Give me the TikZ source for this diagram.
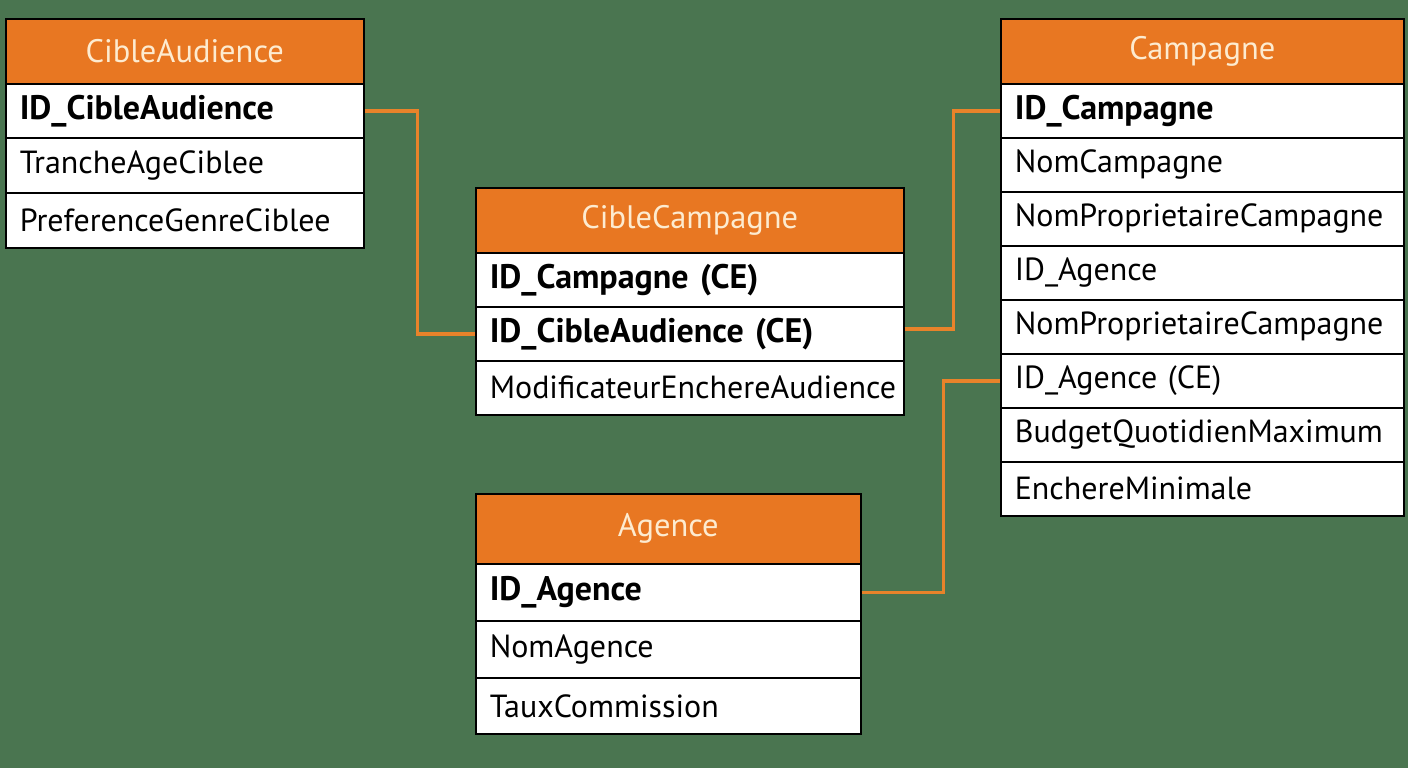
\documentclass[tikz,border=0pt]{standalone}
\usepackage{fontspec}
\setmainfont{PT Sans}
\usetikzlibrary{calc}
\definecolor{bgc}{HTML}{4A7550}
\definecolor{hdr}{HTML}{E87722}
\definecolor{hdrtxt}{HTML}{FDEBD0}
\definecolor{conc}{HTML}{E8832A}
\tikzset{
  tbl/.style={draw=black, line width=1.6pt, anchor=north west, inner xsep=14pt, inner ysep=0pt, align=left, font=\fontsize{32}{32}\selectfont},
  hd/.style={tbl, fill=hdr, text=hdrtxt, align=center, font=\fontsize{32.5}{32}\selectfont},
  rw/.style={tbl, fill=white, text=black},
  key/.style={rw, font=\fontsize{34}{34}\selectfont\bfseries},
  conn/.style={draw=conc, line width=3.5pt},
}
\begin{document}
\begin{tikzpicture}[x=1pt,y=-1pt]
\fill[bgc] (0,0) rectangle (1408,768);
\useasboundingbox (0,0) rectangle (1408,768);
% CibleAudience
\node[hd, text width=330pt, minimum height=65pt] (ca0) at (5,18) {CibleAudience};
\node[key, text width=330pt, minimum height=54pt] (ca1) at (5,83) {ID\_CibleAudience};
\node[rw, text width=330pt, minimum height=55pt] (ca2) at (5,137) {TrancheAgeCiblee};
\node[rw, text width=330pt, minimum height=55pt] (ca3) at (5,192) {PreferenceGenreCiblee};
% CibleCampagne
\node[hd, text width=400pt, minimum height=65pt] (cc0) at (475,187) {CibleCampagne};
\node[key, text width=400pt, minimum height=54pt] (cc1) at (475,252) {ID\_Campagne (CE)};
\node[key, text width=400pt, minimum height=54pt] (cc2) at (475,306) {ID\_CibleAudience (CE)};
\node[rw, text width=400pt, minimum height=54pt] (cc3) at (475,360) {ModificateurEnchereAudience};
% Campagne
\node[hd, text width=375pt, minimum height=65pt] (cp0) at (1000,18) {Campagne};
\node[key, text width=375pt, minimum height=54pt] (cp1) at (1000,83) {ID\_Campagne};
\node[rw, text width=375pt, minimum height=54pt] (cp2) at (1000,137) {NomCampagne};
\node[rw, text width=375pt, minimum height=54pt] (cp3) at (1000,191) {NomProprietaireCampagne};
\node[rw, text width=375pt, minimum height=54pt] (cp4) at (1000,245) {ID\_Agence};
\node[rw, text width=375pt, minimum height=54pt] (cp5) at (1000,299) {NomProprietaireCampagne};
\node[rw, text width=375pt, minimum height=54pt] (cp6) at (1000,353) {ID\_Agence (CE)};
\node[rw, text width=375pt, minimum height=54pt] (cp7) at (1000,407) {BudgetQuotidienMaximum};
\node[rw, text width=375pt, minimum height=54pt] (cp8) at (1000,461) {EnchereMinimale};
% Agence
\node[hd, text width=357pt, minimum height=70pt] (ag0) at (475,493) {Agence};
\node[key, text width=357pt, minimum height=57pt] (ag1) at (475,563) {ID\_Agence};
\node[rw, text width=357pt, minimum height=57pt] (ag2) at (475,620) {NomAgence};
\node[rw, text width=357pt, minimum height=56pt] (ag3) at (475,677) {TauxCommission};
% connectors
\draw[conn] (ca1.east) -- ([xshift=53pt]ca1.east) |- (cc2.west);
\draw[conn] ([yshift=5pt]cc2.east) -- ([xshift=49pt,yshift=5pt]cc2.east) |- (cp1.west);
\draw[conn] (ag1.east) -- ([xshift=82pt]ag1.east) |- (cp6.west);
\end{tikzpicture}
\end{document}
